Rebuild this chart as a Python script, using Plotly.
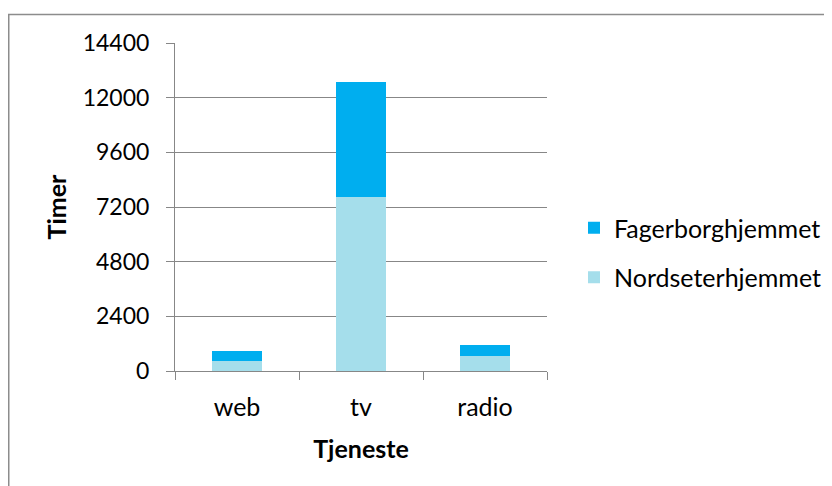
import plotly.graph_objects as go

categories = ["web", "tv", "radio"]
nordseter = [457, 7646, 659]
fagerborg = [409, 5026, 470]
y_ticks = [0, 2400, 4800, 7200, 9600, 12000, 14400]

# page has an 8px body margin, so figure pixel = page pixel - 8
W, H = 824, 478
L, T = 167, 35
PR, PB = 539, 363
R, B = W - PR, H - PB
pw, ph = PR - L, PB - T

FONT = "Lato"
GRID = "#878787"

fig = go.Figure()
fig.add_trace(go.Bar(x=categories, y=nordseter, name="Nordseterhjemmet",
                     marker=dict(color="#A5DEEB", line=dict(width=0)),
                     legendgroup="n", legendrank=2))
fig.add_trace(go.Bar(x=categories, y=fagerborg, name="Fagerborghjemmet",
                     marker=dict(color="#00AEEF", line=dict(width=0)),
                     legendgroup="f", legendrank=1))

def px_x(p):
    return (p - L) / pw

def px_y(p):
    return 1 - (p - T) / ph

fig.update_layout(
    width=W, height=H,
    margin=dict(l=L, r=R, t=T, b=B, autoexpand=False),
    barmode="stack", bargap=0.6,
    paper_bgcolor="white", plot_bgcolor="white",
    font=dict(family=FONT, size=23, color="black"),
    showlegend=True,
    legend=dict(x=px_x(566), y=px_y(197), xanchor="left", yanchor="top",
                traceorder="grouped", tracegroupgap=14,
                font=dict(size=25), itemwidth=30, bgcolor="rgba(0,0,0,0)"),
    xaxis=dict(showline=True, linecolor=GRID, linewidth=1,
               ticks="outside", tickson="boundaries", ticklen=8,
               tickcolor=GRID, showgrid=False,
               tickfont=dict(size=25), ticklabelstandoff=14,
               title=dict(text="<b>Tjeneste</b>", standoff=20,
                          font=dict(size=25))),
    yaxis=dict(range=[0, 14400], tickvals=y_ticks,
               ticktext=[str(v) for v in y_ticks],
               showline=True, linecolor=GRID, linewidth=1,
               ticks="outside", ticklen=8, tickcolor=GRID,
               ticklabelstandoff=12, tickfont=dict(size=23),
               showgrid=True, gridcolor=GRID, gridwidth=1,
               zeroline=False,
               title=dict(text="<b>Timer</b>", standoff=8,
                          font=dict(size=25))),
    shapes=[dict(type="rect", xref="paper", yref="paper",
                 x0=px_x(0.75), x1=px_x(840), y0=px_y(6.5), y1=px_y(495),
                 line=dict(color="#8c8c8c", width=1.5), layer="below")],
)

fig.write_html("out.html")
